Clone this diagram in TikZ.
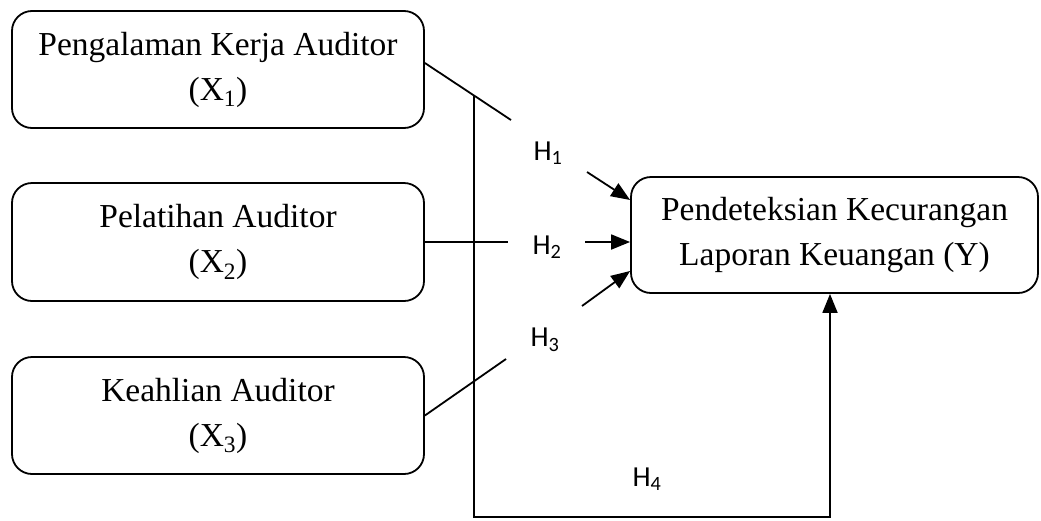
\documentclass[tikz,border=0pt]{standalone}
\usepackage{fontspec}
\setmainfont{Liberation Serif}
\newfontfamily\hfont{Carlito}
\usetikzlibrary{arrows.meta}
\tikzset{
  varbox/.style={draw=black, line width=1.8pt, rounded corners=20pt, inner sep=0pt,
    align=center, font=\fontsize{33.5}{45}\selectfont},
  hlabel/.style={inner sep=0pt, font=\hfont\fontsize{29}{32}\selectfont},
  conn/.style={line width=1.8pt},
  arr/.style={line width=1.8pt, -{Triangle[length=19pt,width=15pt]}}
}
\begin{document}
\begin{tikzpicture}[x=1pt,y=-1pt]
\useasboundingbox (0,0) rectangle (1041,520);
\node[varbox, minimum width=412pt, minimum height=117pt] (x1) at (218,69.5) {Pengalaman Kerja Auditor\\(X\textsubscript{1})};
\node[varbox, minimum width=412pt, minimum height=118pt] (x2) at (218,242) {Pelatihan Auditor\\(X\textsubscript{2})};
\node[varbox, minimum width=412pt, minimum height=117pt] (x3) at (218,415.5) {Keahlian Auditor\\(X\textsubscript{3})};
\node[varbox, minimum width=407pt, minimum height=116pt] (y) at (834.5,235) {Pendeteksian Kecurangan\\Laporan Keuangan (Y)};

\node[hlabel] (h1) at (548,153) {H\textsubscript{1}};
\node[hlabel] (h2) at (547,247) {H\textsubscript{2}};
\node[hlabel] (h3) at (545,340) {H\textsubscript{3}};
\node[hlabel] (h4) at (647,479) {H\textsubscript{4}};

\coordinate (d1) at (511,120);
\coordinate (d2) at (508,242);
\coordinate (d3) at (506,359);
\coordinate (a1) at (587,172);
\coordinate (a2) at (585,242);
\coordinate (a3) at (582,306);
\coordinate (vtop) at (474,96);
\coordinate (br) at (830,517);

\draw[conn] ([yshift=6.5pt]x1.east) -- (d1);
\draw[conn] (x2.east) -- (d2);
\draw[conn] (x3.east) -- (d3);
\draw[arr] (a1) -- ([yshift=35pt]y.west);
\draw[arr] (a2) -- (y.west |- a2);
\draw[arr] (a3) -- ([yshift=-36pt]y.west);
\draw[arr] (vtop) |- (br) -- (y.south -| br);
\end{tikzpicture}
\end{document}
